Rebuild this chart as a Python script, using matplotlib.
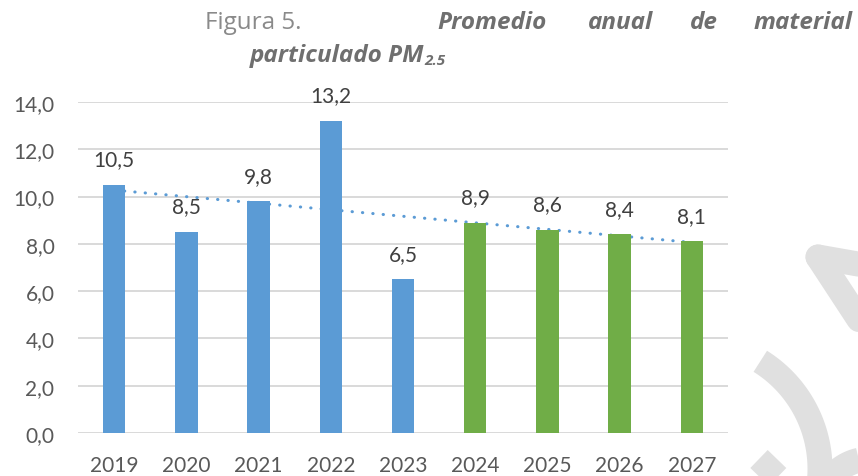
import numpy as np
import matplotlib.pyplot as plt

# ---------- datos ----------
years = ["2019", "2020", "2021", "2022", "2023", "2024", "2025", "2026", "2027"]
pm25 = [10.5, 8.5, 9.8, 13.2, 6.5, 8.9, 8.6, 8.4, 8.1]
bar_colors = ["#5B9BD5"] * 5 + ["#70AD47"] * 4
y_ticks = [0, 2, 4, 6, 8, 10, 12, 14]

plt.rcParams['font.family'] = ['Lato', 'DejaVu Sans']

W, H = 858, 477
fig = plt.figure(figsize=(W / 100, H / 100), dpi=100)
ax = fig.add_axes([78 / W, 43 / H, 650 / W, 331 / H])

x = np.arange(len(years))
ax.bar(x, pm25, width=0.31, color=bar_colors, zorder=3)

# línea de tendencia lineal (detrás de las barras)
k, b = np.polyfit(x, pm25, 1)
ax.plot(x, k * x + b, color="#5B9BD5", lw=2.2,
        linestyle=(0, (0.1, 3.3)), dash_capstyle='round', zorder=2)

for xi, v in zip(x, pm25):
    ax.annotate(f"{v:.1f}".replace(".", ","), (xi, v), xytext=(0, 14),
                textcoords="offset points", ha="center", va="baseline",
                fontsize=15, color="#404040", zorder=4)

ax.set_xlim(-0.5, len(years) - 0.5)
ax.set_ylim(0, 14)
ax.set_yticks(y_ticks)
ax.set_yticklabels([f"{t:.1f}".replace(".", ",") for t in y_ticks])
ax.set_xticks(x)
ax.set_xticklabels(years)
ax.tick_params(length=0, labelsize=15, labelcolor="#595959")
ax.tick_params(axis='y', pad=17)
ax.tick_params(axis='x', pad=16)
ax.grid(axis='y', color="#d9d9d9", lw=1.4, zorder=0)
for s in ax.spines.values():
    s.set_visible(False)
ax.set_axisbelow(True)

# ---------- título (justificado) ----------
tc = "#6f6f6f"
fs = 17.5
tf = ['Open Sans', 'DejaVu Sans']
def ft(px, py, s, size=fs, **kw):
    return fig.text(px / W, 1 - py / H, s, fontsize=size, va="baseline",
                    family=tf, **kw)

ft(205, 29, "Figura 5.", color="#8a8a8a")
bi = dict(color=tc, fontweight="bold", fontstyle="italic")
ft(437, 29, "Promedio", **bi)
ft(588, 29, "anual", **bi)
ft(690, 29, "de", **bi)
ft(853, 29, "material", ha="right", **bi)
t2 = ft(250, 62, "particulado PM", **bi)
fig.canvas.draw()
bb = t2.get_window_extent(fig.canvas.get_renderer())
fig.text(bb.x1 / W, 1 - 65 / H, "2.5", fontsize=11, va="baseline",
         family=tf, **bi)

# ---------- marca de agua ----------
wm = fig.add_axes([0, 0, 1, 1], zorder=-1)
wm.set_xlim(0, W)
wm.set_ylim(H, 0)
wm.axis("off")
wc = "#e0e0e0"
wm.plot([818, 875], [258, 345], color=wc, lw=18, solid_capstyle="round")
wm.plot([818, 875], [258, 268], color=wc, lw=18, solid_capstyle="round")
th = np.linspace(np.radians(-58), np.radians(12), 60)
wm.plot(693 + 127 * np.cos(th), 470 + 127 * np.sin(th), color=wc, lw=18,
        solid_capstyle="butt")
wm.plot([759, 790], [460, 490], color=wc, lw=18, solid_capstyle="butt")
th2 = np.linspace(np.radians(200), np.radians(280), 40)
wm.plot(870 + 50 * np.cos(th2), 510 + 50 * np.sin(th2), color=wc, lw=18,
        solid_capstyle="butt")

fig.savefig("out.png", dpi=100)
